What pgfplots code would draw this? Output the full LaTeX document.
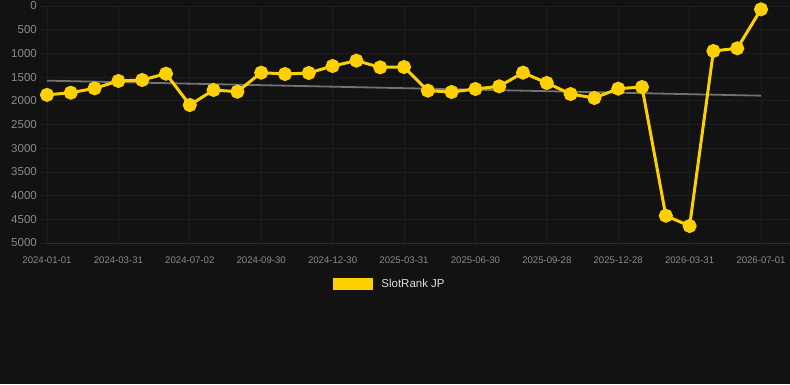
\documentclass[border=0pt]{standalone}
\usepackage{pgfplots}
\pgfplotsset{compat=1.18}
\usepackage{fontspec}
\setmainfont{Liberation Sans}
\definecolor{bg}{HTML}{121212}
\definecolor{gridc}{HTML}{1D1D1D}
\definecolor{basec}{HTML}{2C2C2C}
\definecolor{tickc}{HTML}{8A8A8A}
\definecolor{ylw}{HTML}{FFD000}
\definecolor{trend}{HTML}{727272}
\definecolor{legc}{HTML}{DDDDDD}
\begin{document}
\begin{tikzpicture}
\fill[bg] (0pt,0pt) rectangle (790pt,384pt);
\path[use as bounding box] (0pt,0pt) rectangle (790pt,384pt);
\begin{axis}[
  at={(40pt,141pt)}, anchor=south west,
  scale only axis, width=750pt, height=237pt,
  xmin=-0.294, xmax=31.218,
  ymin=0, ymax=5000, y dir=reverse,
  axis line style={draw=none},
  major tick length=0pt,
  xtick={0,3,...,30},
  xticklabels={2024-01-01,2024-03-31,2024-07-02,2024-09-30,2024-12-30,2025-03-31,2025-06-30,2025-09-28,2025-12-28,2026-03-31,2026-07-01},
  ytick={0,500,...,5000},
  yticklabel style={font=\fontsize{11.5}{13}\selectfont, text=tickc, anchor=east, inner sep=0pt, xshift=-3pt},
  xticklabel style={font=\fontsize{9.6}{11}\selectfont, text=tickc, anchor=north, inner sep=0pt, yshift=-13.5pt},
  /pgf/number format/assume math mode=true,
  scaled y ticks=false,
  yticklabel={\pgfmathprintnumber[fixed,1000 sep={}]{\tick}},
  grid=major, major grid style={gridc, line width=0.8pt},
  clip=false,
]
\draw[basec, line width=0.8pt] (axis cs:0,5000) -- (axis cs:31.218,5000);
\addplot[trend, line width=1.8pt] coordinates {(0,1575) (30,1892)};
\addplot[ylw, line width=3pt, mark=*, mark size=5.5pt, mark options={fill=ylw, draw=none}]
coordinates {
(0,1875) (1,1829) (2,1737) (3,1582) (4,1561) (5,1428) (6,2089) (7,1772) (8,1808)
(9,1406) (10,1435) (11,1413) (12,1266) (13,1153) (14,1294) (15,1287) (16,1786)
(17,1814) (18,1751) (19,1695) (20,1406) (21,1624) (22,1857) (23,1941) (24,1744)
(25,1709) (26,4424) (27,4641) (28,949) (29,893) (30,70)
};
\end{axis}
\begin{axis}[
  at={(40pt,141pt)}, anchor=south west,
  scale only axis, width=750pt, height=237pt,
  xmin=0, xmax=1, ymin=0, ymax=1, hide axis,
  legend style={at={(0.4667,-0.173)}, anchor=center, draw=none, fill=none,
    text=legc, font=\fontsize{11.5}{13}\selectfont, inner sep=0pt},
  legend cell align=left,
]
\addlegendimage{area legend, fill=ylw, draw=none,
  legend image code/.code={\fill[ylw] (0pt,-6pt) rectangle (40pt,6pt); \path (46pt,0pt);}}
\addlegendentry{SlotRank JP}
\end{axis}
\end{tikzpicture}
\end{document}
